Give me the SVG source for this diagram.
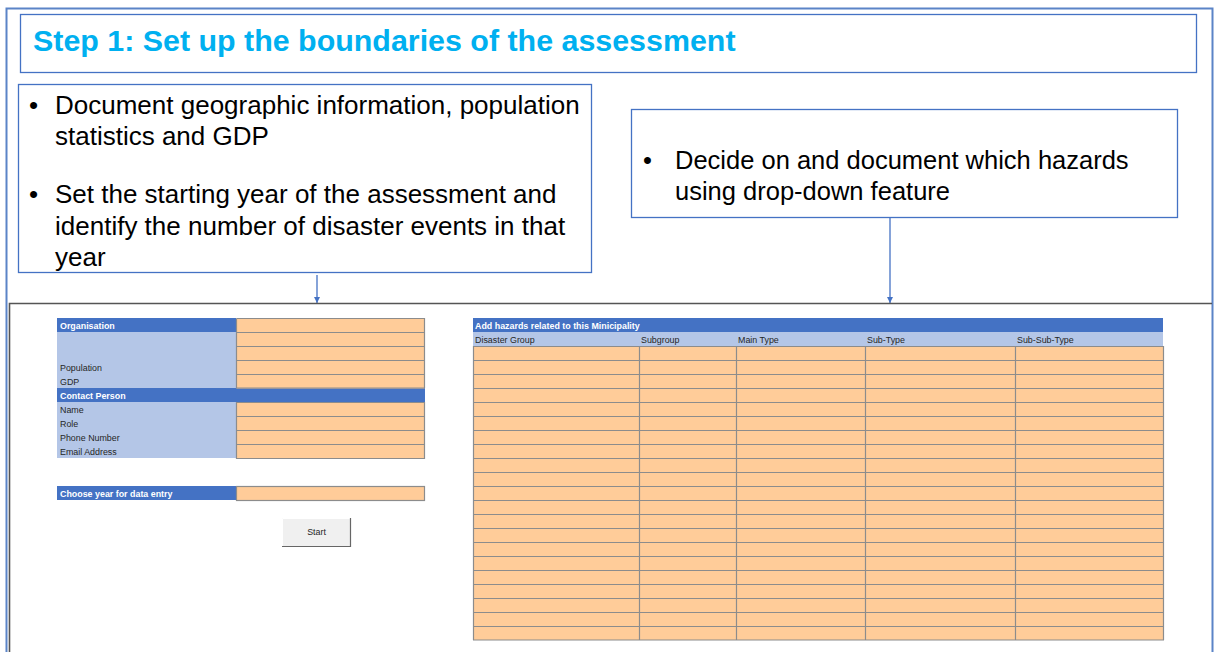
<svg xmlns="http://www.w3.org/2000/svg" width="1215" height="652" viewBox="0 0 1215 652">
<defs>
<style>
.box{fill:#fff;stroke:#4472C4;stroke-width:1.3}
.big{font-family:"Liberation Sans",Arial,sans-serif;font-size:25.5px;fill:#000}
.bigl{font-family:"Liberation Sans",Arial,sans-serif;font-size:26px;fill:#000}
.title{font-family:"Liberation Sans",Arial,sans-serif;font-size:30.4px;font-weight:bold;fill:#00B0F0}
.conn{stroke:#4472C4;stroke-width:1.3;fill:none}
.dk{fill:#4472C4}
.lt{fill:#B4C6E7}
.pc{fill:#FFCC99}
.grid{stroke:#8c8c8c;stroke-width:1.2;fill:none}
.sm{font-family:"Liberation Sans",Arial,sans-serif;font-size:8.9px;fill:#262626}
.smw{font-family:"Liberation Sans",Arial,sans-serif;font-size:8.9px;font-weight:bold;fill:#fff}
</style>
<marker id="ah" viewBox="0 0 10 10" refX="10" refY="5" markerWidth="6" markerHeight="6" orient="auto" markerUnits="userSpaceOnUse">
<path d="M0,0 L10,5 L0,10 z" fill="#4472C4"/>
</marker>
</defs>
<rect width="1215" height="652" fill="#fff"/>
<g id="outer-frame">
<path d="M6.5,652 V8.5 H1212.5 V652" fill="none" stroke="#5B84C7" stroke-width="2"/>
</g>
<g id="title">
<rect class="box" x="20.5" y="14.5" width="1176" height="58"/>
<text class="title" x="33" y="51">Step 1: Set up the boundaries of the assessment</text>
</g>
<g id="left-note">
<rect class="box" x="18.5" y="84.5" width="573" height="188"/>
<text class="bigl" x="29" y="114">•</text>
<text class="bigl" x="55" y="114">Document geographic information, population</text>
<text class="bigl" x="55" y="145">statistics and GDP</text>
<text class="bigl" x="29" y="203">•</text>
<text class="bigl" x="55" y="203">Set the starting year of the assessment and</text>
<text class="bigl" x="55" y="235">identify the number of disaster events in that</text>
<text class="bigl" x="55" y="266">year</text>
</g>
<g id="right-note">
<rect class="box" x="631.5" y="109.5" width="546" height="108"/>
<text class="big" x="643" y="169">•</text>
<text class="big" x="675" y="169">Decide on and document which hazards</text>
<text class="big" x="675" y="200">using drop-down feature</text>
</g>
<g id="connectors">
<line class="conn" x1="317" y1="275" x2="317" y2="303" marker-end="url(#ah)"/>
<line class="conn" x1="890" y1="218" x2="890" y2="303" marker-end="url(#ah)"/>
</g>
<g id="screenshot-frame">
<path d="M9.5,652 V303.5 H1212" fill="none" stroke="#555" stroke-width="1.6"/>
</g>
<g id="form-left">
<rect class="dk" x="57" y="318" width="179" height="14"/>
<rect class="lt" x="57" y="332" width="179" height="56"/>
<rect class="dk" x="57" y="388" width="368" height="14"/>
<rect class="lt" x="57" y="402" width="179" height="56"/>
<rect class="pc" x="236.5" y="318.5" width="188" height="70"/>
<rect class="pc" x="236.5" y="402.5" width="188" height="56"/>
<path class="grid" d="M236.5,318.5 H424.5 V388 M236.5,318.5 V388 M236.5,332.5 H424.5 M236.5,346.5 H424.5 M236.5,360.5 H424.5 M236.5,374.5 H424.5 M236.5,388 H424.5 M236.5,402.5 H424.5 V458.5 H236.5 Z M236.5,416.5 H424.5 M236.5,430.5 H424.5 M236.5,444.5 H424.5"/>
<text class="smw" x="60" y="328.5">Organisation</text>
<text class="sm" x="60" y="370.5">Population</text>
<text class="sm" x="60" y="384.5">GDP</text>
<text class="smw" x="60" y="398.5">Contact Person</text>
<text class="sm" x="60" y="412.5">Name</text>
<text class="sm" x="60" y="426.5">Role</text>
<text class="sm" x="60" y="440.5">Phone Number</text>
<text class="sm" x="60" y="454.5">Email Address</text>
<rect class="dk" x="57" y="486" width="179" height="14"/>
<rect class="pc" x="236.5" y="486.5" width="188" height="14"/>
<rect class="grid" x="236.5" y="486.5" width="188" height="14"/>
<text class="smw" x="60" y="496.5">Choose year for data entry</text>
</g>
<g id="start-button">
<rect x="282" y="518" width="69" height="29" fill="#F0F0F0"/>
<path d="M282.5,546.5 V518.5 H350.5" fill="none" stroke="#fff" stroke-width="1"/>
<path d="M282,546.5 H350.5 V518" fill="none" stroke="#666" stroke-width="1.2"/>
<text class="sm" x="316.5" y="535" text-anchor="middle">Start</text>
</g>
<g id="hazard-table">
<rect class="dk" x="473" y="318" width="690" height="14"/>
<rect class="lt" x="473" y="332" width="690" height="14"/>
<rect class="pc" x="473" y="346" width="691" height="294"/>
<text class="smw" x="475" y="328.5">Add hazards related to this Minicipality</text>
<text class="sm" x="475" y="342.5">Disaster Group</text>
<text class="sm" x="641" y="342.5">Subgroup</text>
<text class="sm" x="738" y="342.5">Main Type</text>
<text class="sm" x="867" y="342.5">Sub-Type</text>
<text class="sm" x="1017" y="342.5">Sub-Sub-Type</text>
<path class="grid" d="M473.5,346 V640 M639.5,346 V640 M736.5,346 V640 M865.5,346 V640 M1015.5,346 V640 M1163.5,346 V640 M473,346.5 H1164 M473,360.5 H1164 M473,374.5 H1164 M473,388.5 H1164 M473,402.5 H1164 M473,416.5 H1164 M473,430.5 H1164 M473,444.5 H1164 M473,458.5 H1164 M473,472.5 H1164 M473,486.5 H1164 M473,500.5 H1164 M473,514.5 H1164 M473,528.5 H1164 M473,542.5 H1164 M473,556.5 H1164 M473,570.5 H1164 M473,584.5 H1164 M473,598.5 H1164 M473,612.5 H1164 M473,626.5 H1164 M473,640 H1164"/>
</g>
</svg>
